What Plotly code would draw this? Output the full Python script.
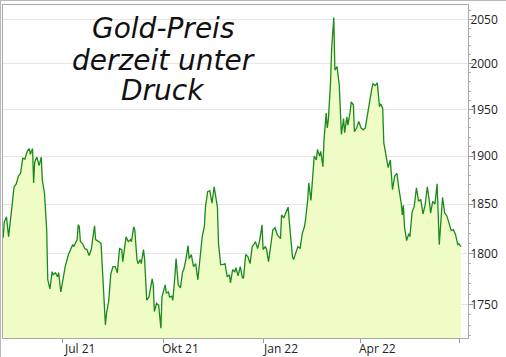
import plotly.graph_objects as go

# Gold price (USD/oz)
dates = [
    "2021-05-07","2021-05-08","2021-05-10","2021-05-12","2021-05-15","2021-05-17","2021-05-19","2021-05-21",
    "2021-05-23","2021-05-25","2021-05-27","2021-05-29","2021-05-31","2021-06-01","2021-06-03","2021-06-04",
    "2021-06-05","2021-06-07","2021-06-09","2021-06-11","2021-06-12","2021-06-14","2021-06-16","2021-06-17",
    "2021-06-19","2021-06-21","2021-06-22","2021-06-24","2021-06-26","2021-06-27","2021-06-29","2021-07-01",
    "2021-07-03","2021-07-06","2021-07-08","2021-07-10","2021-07-11","2021-07-14","2021-07-15","2021-07-16",
    "2021-07-17","2021-07-19","2021-07-21","2021-07-23","2021-07-25","2021-07-27","2021-07-30","2021-07-31",
    "2021-08-03","2021-08-05","2021-08-06","2021-08-09","2021-08-10","2021-08-12","2021-08-14","2021-08-16",
    "2021-08-18","2021-08-20","2021-08-22","2021-08-24","2021-08-25","2021-08-28","2021-08-30","2021-09-01",
    "2021-09-02","2021-09-04","2021-09-05","2021-09-07","2021-09-08","2021-09-10","2021-09-11","2021-09-13",
    "2021-09-14","2021-09-16","2021-09-18","2021-09-21","2021-09-22","2021-09-23","2021-09-25","2021-09-27",
    "2021-09-29","2021-09-30","2021-10-03","2021-10-04","2021-10-06","2021-10-07","2021-10-09","2021-10-10",
    "2021-10-12","2021-10-13","2021-10-15","2021-10-17","2021-10-19","2021-10-20","2021-10-22","2021-10-24",
    "2021-10-25","2021-10-27","2021-10-29","2021-10-31","2021-11-02","2021-11-04","2021-11-06","2021-11-08",
    "2021-11-09","2021-11-11","2021-11-13","2021-11-15","2021-11-17","2021-11-18","2021-11-20","2021-11-21",
    "2021-11-23","2021-11-25","2021-11-27","2021-11-29","2021-12-01","2021-12-02","2021-12-04","2021-12-06",
    "2021-12-07","2021-12-09","2021-12-11","2021-12-13","2021-12-14","2021-12-16","2021-12-18","2021-12-20",
    "2021-12-22","2021-12-24","2021-12-25","2021-12-27","2021-12-29","2021-12-31","2022-01-01","2022-01-03",
    "2022-01-04","2022-01-06","2022-01-08","2022-01-10","2022-01-12","2022-01-14","2022-01-17","2022-01-18",
    "2022-01-20","2022-01-22","2022-01-24","2022-01-26","2022-01-28","2022-01-29","2022-01-31","2022-02-02",
    "2022-02-04","2022-02-06","2022-02-08","2022-02-09","2022-02-11","2022-02-12","2022-02-14","2022-02-16",
    "2022-02-17","2022-02-19","2022-02-20","2022-02-22","2022-02-23","2022-02-25","2022-02-26","2022-02-28",
    "2022-03-01","2022-03-02","2022-03-04","2022-03-05","2022-03-07","2022-03-08","2022-03-10","2022-03-12",
    "2022-03-14","2022-03-16","2022-03-17","2022-03-19","2022-03-20","2022-03-22","2022-03-23","2022-03-25",
    "2022-03-26","2022-03-28","2022-03-30","2022-04-01","2022-04-03","2022-04-05","2022-04-07","2022-04-09",
    "2022-04-11","2022-04-12","2022-04-14","2022-04-16","2022-04-18","2022-04-19","2022-04-21","2022-04-22",
    "2022-04-24","2022-04-26","2022-04-28","2022-04-30","2022-05-02","2022-05-04","2022-05-06","2022-05-08",
    "2022-05-09","2022-05-10","2022-05-11","2022-05-13","2022-05-15","2022-05-16","2022-05-18","2022-05-20",
    "2022-05-22","2022-05-24","2022-05-26","2022-05-28","2022-05-30","2022-06-01","2022-06-03","2022-06-04",
    "2022-06-06","2022-06-08","2022-06-10","2022-06-12","2022-06-15","2022-06-17","2022-06-19","2022-06-21",
    "2022-06-23","2022-06-25","2022-06-27","2022-06-29","2022-06-30","2022-07-02",
]
prices = [
    1816,1832,1837,1817,1847,1868,1871,1879,
    1882,1898,1897,1905,1908,1902,1908,1872,
    1894,1899,1890,1899,1875,1861,1824,1774,
    1765,1782,1779,1781,1777,1781,1762,1777,
    1787,1799,1804,1809,1807,1814,1829,1827,
    1812,1810,1805,1804,1798,1804,1828,1814,
    1812,1810,1790,1730,1741,1753,1780,1787,
    1787,1781,1805,1804,1792,1817,1812,1814,
    1812,1827,1824,1794,1790,1794,1790,1804,
    1795,1754,1757,1775,1769,1743,1751,1749,
    1727,1757,1769,1761,1762,1757,1758,1754,
    1779,1795,1769,1766,1782,1784,1794,1808,
    1795,1799,1787,1790,1774,1799,1817,1827,
    1847,1863,1864,1851,1868,1861,1847,1810,
    1789,1789,1790,1777,1779,1771,1784,1782,
    1786,1778,1787,1776,1776,1799,1797,1790,
    1807,1810,1812,1805,1814,1829,1804,1807,
    1805,1792,1807,1824,1826,1819,1815,1839,
    1836,1842,1847,1821,1797,1794,1800,1807,
    1805,1820,1827,1834,1854,1872,1854,1886,
    1900,1896,1907,1900,1905,1889,1917,1946,
    1930,1939,1979,2016,2052,1993,1997,1977,
    1923,1940,1925,1942,1933,1947,1958,1955,
    1926,1930,1937,1930,1928,1930,1946,1958,
    1973,1978,1976,1979,1953,1956,1951,1914,
    1900,1888,1896,1865,1879,1882,1865,1851,
    1839,1849,1827,1813,1820,1817,1842,1848,
    1867,1853,1855,1840,1849,1868,1852,1841,
    1853,1850,1871,1809,1857,1841,1838,1831,
    1823,1824,1819,1809,1810,1807,
]

x_tick_vals = ["2021-07-01", "2021-10-01", "2022-01-01", "2022-04-01", "2022-07-01"]
x_label_vals = ["2021-07-01", "2021-10-01", "2022-01-01", "2022-04-01"]
x_label_text = ["Jul 21", "Okt 21", "Jan 22", "Apr 22"]
y_tick_vals = [1750, 1800, 1850, 1900, 1950, 2000, 2050]
y_minor_vals = [v for v in range(1720, 2070, 10) if v % 50 != 0]
title_lines = ["Gold-Preis", "derzeit unter", "Druck"]

fig = go.Figure()
fig.add_trace(go.Scatter(
    x=dates, y=prices, mode="lines",
    line=dict(color="#1a8a1a", width=1.3),
    fill="tozeroy", fillcolor="#f0fcc6",
    hoverinfo="x+y", showlegend=False,
))

W, H = 506, 357
ml, mr, mt, mb = 3, 38, 5, 19
pw, ph = W - ml - mr, H - mt - mb

def px(x):
    return (x - ml) / pw

def py(y):
    return (H - mb - y) / ph

line_y = [28, 60, 91]
for txt, yy in zip(title_lines, line_y):
    fig.add_annotation(
        text=txt, xref="paper", yref="paper", x=px(163), y=py(yy),
        xanchor="center", yanchor="middle", showarrow=False,
        font=dict(family="DejaVu Sans", size=28, color="#111111", style="italic"),
    )

# x-axis labels, centred in mid-month to the right of the quarter ticks
for xv, txt in zip(x_label_vals, x_label_text):
    fig.add_annotation(
        text=txt, xref="x", yref="paper", x=xv, y=py(348),
        xshift=17, xanchor="center", yanchor="middle", showarrow=False,
        font=dict(family="Open Sans", size=12, color="#222222"),
    )

# outer image frame (top & left)
fig.add_shape(type="line", xref="paper", yref="paper",
              x0=px(0), x1=px(W), y0=py(0.5), y1=py(0.5),
              line=dict(color="#b8b8b8", width=1))
fig.add_shape(type="line", xref="paper", yref="paper",
              x0=px(0.5), x1=px(0.5), y0=py(0), y1=py(H),
              line=dict(color="#b8b8b8", width=1))

fig.update_layout(
    width=W, height=H,
    margin=dict(l=ml, r=mr, t=mt, b=mb),
    paper_bgcolor="white", plot_bgcolor="white",
    font=dict(family="Open Sans", size=12, color="#222222"),
    xaxis=dict(
        type="date",
        range=["2021-05-06 20:00", "2022-07-08 10:00"],
        tickmode="array", tickvals=x_tick_vals, ticktext=[""] * len(x_tick_vals),
        ticks="outside", ticklen=4, tickcolor="#9a9a9a",
        showgrid=False, zeroline=False,
        showline=True, linecolor="#a8a8a8", linewidth=1, mirror=True,
    ),
    yaxis=dict(
        type="log", side="right",
        range=[3.234919, 3.315202],
        tickmode="array", tickvals=y_tick_vals,
        ticktext=[str(v) for v in y_tick_vals],
        ticks="outside", ticklen=4, tickcolor="#9a9a9a",
        ticklabelstandoff=-5,
        minor=dict(tickmode="array", tickvals=y_minor_vals, ticks="outside",
                   ticklen=2, tickcolor="#b0b0b0", showgrid=False),
        showgrid=True, gridcolor="#e6e6e6", gridwidth=1,
        zeroline=False,
        showline=True, linecolor="#a8a8a8", linewidth=1, mirror=True,
        tickfont=dict(size=12, color="#222222"),
    ),
)

fig.write_html(
    "out.html",
    config={"displayModeBar": False},
    post_script="document.body.style.margin='0';document.body.style.padding='0';",
)
